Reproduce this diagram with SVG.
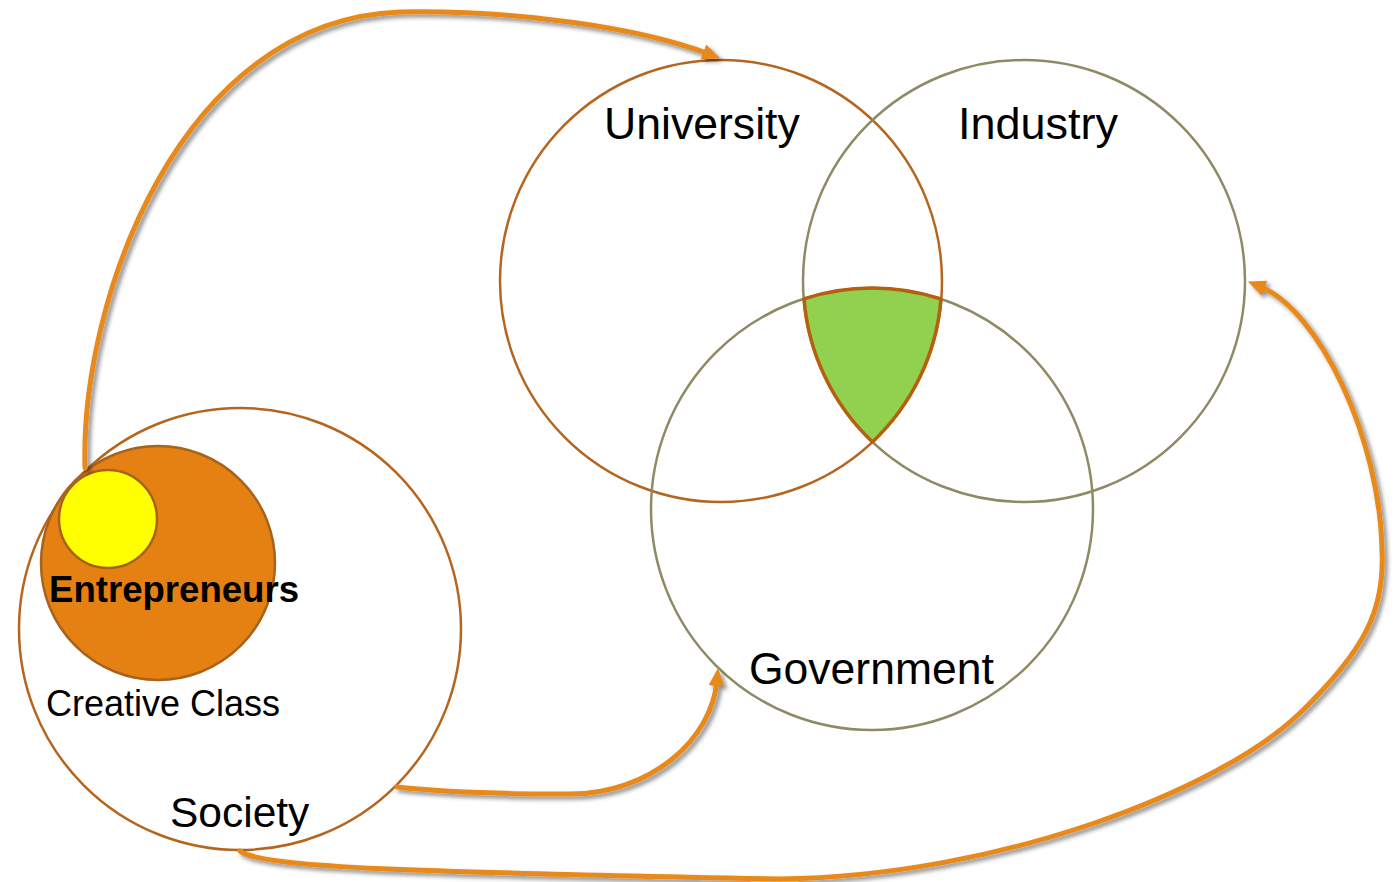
<svg xmlns="http://www.w3.org/2000/svg" width="1397" height="882" viewBox="0 0 1397 882">
<style>
.lbl{font-family:"Liberation Sans",Arial,sans-serif;fill:#000}
.ring-b{fill:none;stroke:#B5651D;stroke-width:2.5}
.ring-o{fill:none;stroke:#8E8A64;stroke-width:2.5}
.arrow{fill:none;stroke:#E8891A;stroke-width:5;stroke-linecap:round;filter:url(#sh);marker-end:url(#ah)}
</style>
<defs>
<filter id="sh" x="-10%" y="-10%" width="120%" height="120%">
<feDropShadow dx="3" dy="3" stdDeviation="2" flood-color="#000" flood-opacity="0.45"/>
</filter>
<marker id="ah" markerUnits="userSpaceOnUse" markerWidth="20" markerHeight="18" refX="6" refY="8" orient="auto" viewBox="0 0 20 16">
<path d="M0,0 L18,8 L0,16 z" fill="#E8891A"/>
</marker>
</defs>
<rect width="1397" height="882" fill="#fff"/>
<g id="society">
<circle cx="240" cy="629" r="221" fill="#fff" stroke="#B5651D" stroke-width="2.5"/>
<text class="lbl" x="170" y="827" font-size="42.5">Society</text>
</g>
<g id="creative-class">
<text class="lbl" x="46" y="716" font-size="36">Creative Class</text>
</g>
<g id="entrepreneurs">
<circle cx="158" cy="563" r="117" fill="#E48112" stroke="#A8621C" stroke-width="2.5"/>
<circle cx="108" cy="519" r="49" fill="#FFFF00" stroke="#A8621C" stroke-width="2.5"/>
<text class="lbl" x="49" y="602" font-size="36.6" font-weight="bold">Entrepreneurs</text>
</g>
<g id="university">
<circle class="ring-b" cx="721" cy="281" r="221"/>
<text class="lbl" x="604" y="139" font-size="44.6">University</text>
</g>
<g id="industry">
<circle class="ring-o" cx="1024" cy="281" r="221"/>
<text class="lbl" x="958" y="139" font-size="45">Industry</text>
</g>
<g id="government">
<circle class="ring-o" cx="872" cy="509" r="221"/>
<text class="lbl" x="749" y="684" font-size="44.5">Government</text>
</g>
<g id="intersection">
<path d="M 804 298.8 A 221 221 0 0 1 941 299 A 221 221 0 0 1 872.5 442 A 221 221 0 0 1 804 298.8 Z" fill="#92D050" stroke="#B5600F" stroke-width="3.5" stroke-linejoin="round"/>
</g>
<g id="connectors">
<path class="arrow" d="M 85 468 C 80 300, 180 20, 400 12 C 520 10, 640 28, 709 54"/>
<path class="arrow" d="M 397 787 C 450 793, 520 794, 570 794 C 650 794, 712 740, 717 680"/>
<path class="arrow" d="M 240 851 C 260 868, 420 872, 780 879 C 1000 876, 1220 790, 1300 713 C 1365 650, 1385 610, 1382 550 C 1380 440, 1320 310, 1259 286"/>
</g>
</svg>
